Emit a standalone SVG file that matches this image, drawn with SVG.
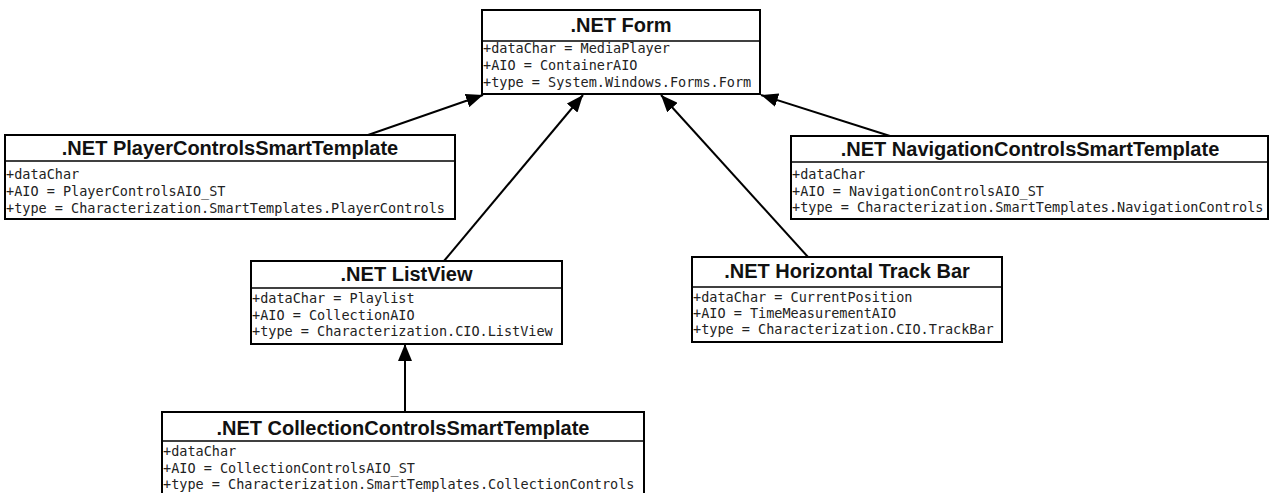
<svg xmlns="http://www.w3.org/2000/svg" width="1272" height="493" viewBox="0 0 1272 493">
  <style>
    .box { fill: #ffffff; stroke: #000000; stroke-width: 2; }
    .sep { stroke: #000000; stroke-width: 1.5; }
    .title { font-family: "Liberation Sans", Arial, sans-serif; font-weight: bold; font-size: 20px; fill: #111111; text-anchor: middle; }
    .attr { font-family: "DejaVu Sans Mono", "Liberation Mono", monospace; font-size: 13.5px; fill: #222222; }
    .conn { stroke: #000000; stroke-width: 2; fill: none; marker-end: url(#arrow); }
  </style>
  <defs>
    <marker id="arrow" markerUnits="userSpaceOnUse" markerWidth="18" markerHeight="14" refX="17" refY="7" orient="auto">
      <path d="M0,0 L17,7 L0,14 z" fill="#000000"/>
    </marker>
  </defs>
  <rect width="1272" height="493" fill="#ffffff"/>

  <g id="connectors">
    <line class="conn" x1="368" y1="135" x2="483" y2="95"/>
    <line class="conn" x1="444" y1="261" x2="583" y2="95"/>
    <line class="conn" x1="808" y1="257" x2="661" y2="95"/>
    <line class="conn" x1="890" y1="136" x2="761" y2="95"/>
    <line class="conn" x1="405" y1="412" x2="405" y2="344"/>
  </g>

  <g id="form">
    <rect class="box" x="482" y="10" width="278" height="84"/>
    <line class="sep" x1="482" y1="41" x2="760" y2="41"/>
    <text class="title" x="621" y="32">.NET Form</text>
    <text class="attr" x="483" y="53">+dataChar = MediaPlayer</text>
    <text class="attr" x="483" y="70">+AIO = ContainerAIO</text>
    <text class="attr" x="483" y="87">+type = System.Windows.Forms.Form</text>
  </g>

  <g id="player-controls">
    <rect class="box" x="5" y="135" width="450" height="84"/>
    <line class="sep" x1="5" y1="161" x2="455" y2="161"/>
    <text class="title" x="230" y="155">.NET PlayerControlsSmartTemplate</text>
    <text class="attr" x="6" y="179">+dataChar</text>
    <text class="attr" x="6" y="196">+AIO = PlayerControlsAIO_ST</text>
    <text class="attr" x="6" y="213">+type = Characterization.SmartTemplates.PlayerControls</text>
  </g>

  <g id="navigation-controls">
    <rect class="box" x="791" y="136" width="477" height="83"/>
    <line class="sep" x1="791" y1="162" x2="1268" y2="162"/>
    <text class="title" x="1030" y="156">.NET NavigationControlsSmartTemplate</text>
    <text class="attr" x="792" y="179">+dataChar</text>
    <text class="attr" x="792" y="196">+AIO = NavigationControlsAIO_ST</text>
    <text class="attr" x="792" y="212">+type = Characterization.SmartTemplates.NavigationControls</text>
  </g>

  <g id="listview">
    <rect class="box" x="251" y="261" width="311" height="83"/>
    <line class="sep" x1="251" y1="288" x2="562" y2="288"/>
    <text class="title" x="406.5" y="281">.NET ListView</text>
    <text class="attr" x="252" y="303">+dataChar = Playlist</text>
    <text class="attr" x="252" y="320">+AIO = CollectionAIO</text>
    <text class="attr" x="252" y="336">+type = Characterization.CIO.ListView</text>
  </g>

  <g id="trackbar">
    <rect class="box" x="692" y="257" width="310" height="85"/>
    <line class="sep" x1="692" y1="287" x2="1002" y2="287"/>
    <text class="title" x="847" y="278">.NET Horizontal Track Bar</text>
    <text class="attr" x="693" y="302">+dataChar = CurrentPosition</text>
    <text class="attr" x="693" y="318">+AIO = TimeMeasurementAIO</text>
    <text class="attr" x="693" y="334">+type = Characterization.CIO.TrackBar</text>
  </g>

  <g id="collection-controls">
    <rect class="box" x="162" y="412" width="482" height="92"/>
    <line class="sep" x1="162" y1="441" x2="644" y2="441"/>
    <text class="title" x="403" y="435">.NET CollectionControlsSmartTemplate</text>
    <text class="attr" x="163" y="456">+dataChar</text>
    <text class="attr" x="163" y="473">+AIO = CollectionControlsAIO_ST</text>
    <text class="attr" x="163" y="489">+type = Characterization.SmartTemplates.CollectionControls</text>
  </g>
</svg>
